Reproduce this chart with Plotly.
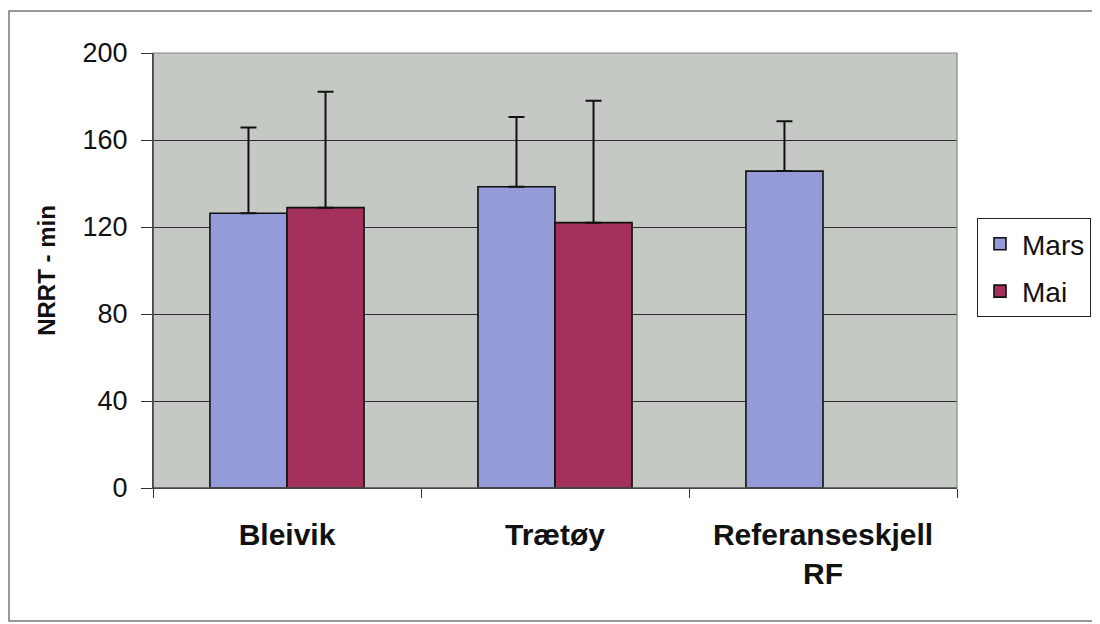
import plotly.graph_objects as go

categories = ["Bleivik", "Trætøy", "Referanseskjell<br>RF"]
mars_values = [126.3, 138.5, 145.7]
mars_sd = [39.5, 32.1, 22.9]
mai_values = [128.9, 122.0, None]
mai_sd = [53.3, 56.1, None]
y_ticks = [0, 40, 80, 120, 160, 200]

MARS_COLOR = "#959bd8"
MAI_COLOR = "#a3315c"

fig = go.Figure()
fig.add_trace(go.Bar(
    name="Mars", x=categories, y=mars_values,
    marker=dict(color=MARS_COLOR, line=dict(color="#111111", width=1.6)),
    error_y=dict(type="data", array=mars_sd, arrayminus=[0] * len(mars_sd),
                 symmetric=False, color="#111111", thickness=2, width=8),
    legendgroup="a",
))
fig.add_trace(go.Bar(
    name="Mai", x=categories, y=mai_values,
    marker=dict(color=MAI_COLOR, line=dict(color="#111111", width=1.6)),
    error_y=dict(type="data", array=[v if v is not None else 0 for v in mai_sd],
                 arrayminus=[0] * len(mai_sd),
                 symmetric=False, color="#111111", thickness=2, width=8),
    legendgroup="b",
))

OFF = 8  # page body margin
L, R, T, B = 153 - OFF, 957 - OFF, 53 - OFF, 488 - OFF
W, H = 1100 - OFF, 624 - OFF
pw, ph = R - L, B - T

def px_x(x):
    return (x - OFF - L) / pw

def px_y(y):
    return (B - (y - OFF)) / ph

fig.update_layout(
    width=W, height=H,
    margin=dict(l=L, r=W - R, t=T, b=H - B, autoexpand=False),
    paper_bgcolor="white",
    plot_bgcolor="#c5c9c4",
    barmode="group",
    bargap=0.425,
    bargroupgap=0,
    font=dict(family="Arial, Liberation Sans, sans-serif", color="#111111"),
    showlegend=True,
    legend=dict(
        x=px_x(977), y=px_y(218), xanchor="left", yanchor="top",
        bgcolor="white", bordercolor="#222222", borderwidth=1,
        font=dict(size=28, color="#111111"),
        tracegroupgap=8, traceorder="grouped",
        itemwidth=34,
    ),
    xaxis=dict(
        type="category",
        showline=True, linecolor="#333333", linewidth=1.2,
        ticks="outside", tickson="boundaries", ticklen=9, tickcolor="#333333",
        tickfont=dict(size=30, family="Arial, Liberation Sans, sans-serif",
                      color="#111111", weight="bold"),
        ticklabelstandoff=20,
        showgrid=False,
        automargin=False,
    ),
    yaxis=dict(
        range=[0, 200], tickvals=y_ticks, ticktext=[str(v) for v in y_ticks],
        showline=True, linecolor="#333333", linewidth=1.2,
        ticks="outside", ticklen=11, tickcolor="#333333",
        tickfont=dict(size=27, color="#111111"),
        ticklabelstandoff=8,
        showgrid=True, gridcolor="#2e2e2e", gridwidth=1,
        zeroline=False,
        title=dict(text="<b>NRRT - min</b>", font=dict(size=24, color="#111111"), standoff=20),
        automargin=False,
    ),
    shapes=[
        dict(type="rect", xref="paper", yref="paper", x0=0, x1=1, y0=0, y1=1,
             line=dict(color="#888888", width=1.2), fillcolor="rgba(0,0,0,0)", layer="above"),
        dict(type="line", xref="paper", yref="paper", x0=0, x1=0, y0=0, y1=1,
             line=dict(color="#333333", width=1.2), layer="above"),
        dict(type="line", xref="paper", yref="paper", x0=0, x1=1, y0=0, y1=0,
             line=dict(color="#333333", width=1.2), layer="above"),
        dict(type="rect", xref="paper", yref="paper",
             x0=px_x(9), x1=px_x(1097), y0=px_y(621), y1=px_y(11),
             line=dict(color="#777777", width=1.5), fillcolor="rgba(0,0,0,0)", layer="below"),
    ],
)

fig.write_html("out.html")
